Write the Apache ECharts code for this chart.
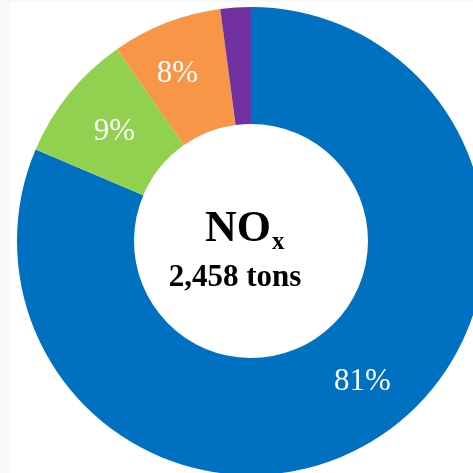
<!DOCTYPE html>
<html>
<head>
<meta charset="utf-8">
<script src="https://cdn.jsdelivr.net/npm/echarts@6/dist/echarts.min.js"></script>
<style>
html,body{margin:0;padding:0;background:#f8f8f8;}
#chart{position:absolute;left:0;top:0;width:473px;height:473px;}
</style>
</head>
<body>
<div id="chart"></div>
<script>
const categories = ["Source A", "Source B", "Source C", "Source D"];
const values = [81.4, 8.9, 7.6, 2.1];
const colors = ["#0070C0", "#92D050", "#F79646", "#7030A0"];
const labelOffsets = [[13, -8], [2, 3], [-9, -1], [0, 0]];
const centerTitle = "NO";
const centerSub = "x";
const centerTotal = "2,458 tons";

const chart = echarts.init(document.getElementById('chart'), null, {renderer: 'canvas'});
chart.setOption({
  animation: false,
  backgroundColor: '#f8f8f8',
  graphic: [
    {type: 'rect', left: 10, top: 2, shape: {width: 463, height: 471}, style: {fill: '#ffffff'}, z: -10},
    {type: 'text', x: 205, y: 208, style: {text: centerTitle, font: 'bold 44px "Liberation Serif"', fill: '#000', align: 'left', verticalAlign: 'top'}, z: 10},
    {type: 'text', x: 272, y: 230, style: {text: centerSub, font: 'bold 25px "Liberation Serif"', fill: '#000', align: 'left', verticalAlign: 'top'}, z: 10},
    {type: 'text', x: 235, y: 262, style: {text: centerTotal, font: 'bold 31px "Liberation Serif"', fill: '#000', align: 'center', verticalAlign: 'top'}, z: 10}
  ],
  series: [{
    type: 'pie',
    center: [251, 241],
    radius: [117, 234],
    startAngle: 90,
    clockwise: true,
    silent: true,
    itemStyle: {borderWidth: 0},
    label: {
      show: true,
      position: 'inside',
      color: '#ffffff',
      fontFamily: '"Liberation Serif", serif',
      fontSize: 31,
      formatter: function (p) { return p.percent < 5 ? '' : Math.round(p.percent) + '%'; }
    },
    labelLine: {show: false},
    data: categories.map((c, i) => ({name: c, value: values[i], itemStyle: {color: colors[i]}, label: {offset: labelOffsets[i]}}))
  }]
});
</script>
</body>
</html>
